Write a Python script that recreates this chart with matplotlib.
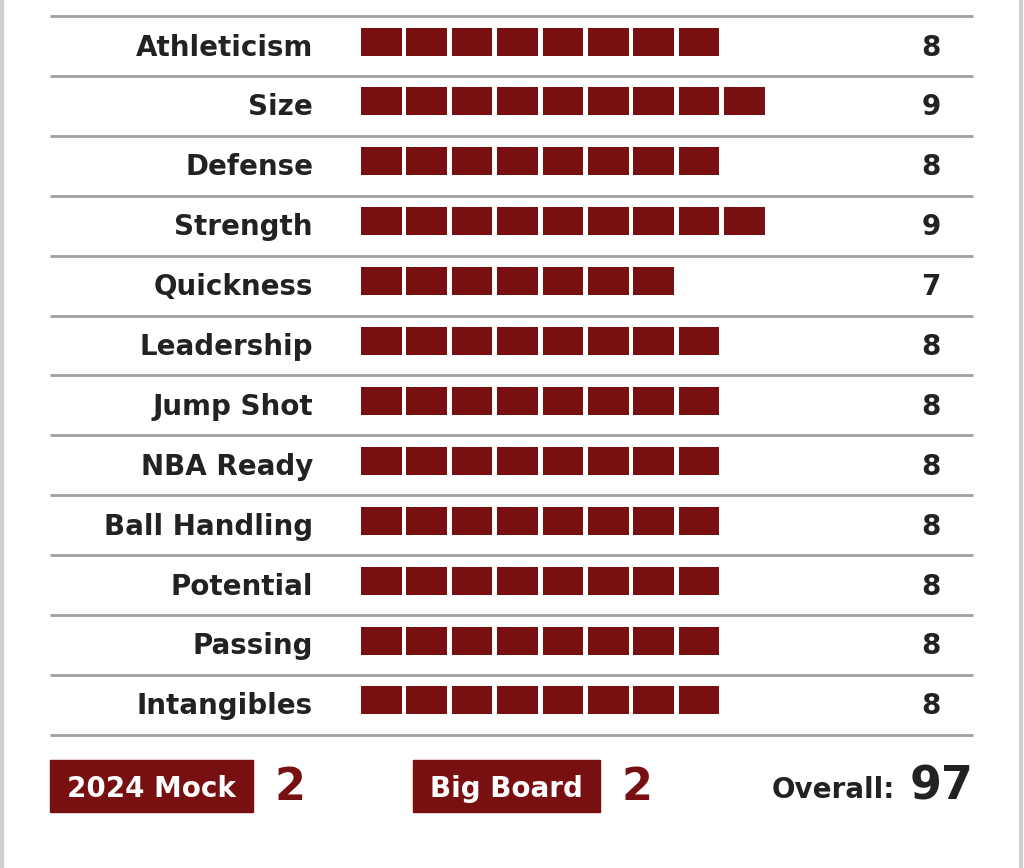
import matplotlib.pyplot as plt
from matplotlib.patches import Rectangle

# ratings
skills = ['Athleticism', 'Size', 'Defense', 'Strength', 'Quickness', 'Leadership',
          'Jump Shot', 'NBA Ready', 'Ball Handling', 'Potential', 'Passing', 'Intangibles']
scores = [8, 9, 8, 9, 7, 8, 8, 8, 8, 8, 8, 8]
mock_rank = 2
board_rank = 2
overall = 97

RED = '#780f11'
DARK = '#222222'
FONT = 'DejaVu Sans'

fig = plt.figure(figsize=(10.24, 8.68), dpi=100)
ax = fig.add_axes([0, 0, 1, 1])
ax.set_xlim(0, 1024)
ax.set_ylim(868, 0)
ax.axis('off')

# light frame edges
ax.axvline(1.5, color='#d0d0d0', lw=3)
ax.axvline(1020.5, color='#d0d0d0', lw=3)

row_h = 59.9
top = 16
for i, (name, s) in enumerate(zip(skills, scores)):
    y0 = top + row_h * i
    ax.plot([50, 973], [y0, y0], color='#a0a0a0', lw=2, solid_capstyle='butt')
    # labels and squares sit on a common baseline
    base = y0 + 39.5
    ax.text(313, base, name, ha='right', va='baseline', fontsize=20, fontweight='bold',
            color=DARK, family=FONT)
    lefts = [361 + 45.4 * k for k in range(s)]
    ax.barh([base - 14] * s, [40.5] * s, left=lefts, height=28, color=RED)
    ax.text(931, base, str(s), ha='center', va='baseline', fontsize=20, fontweight='bold',
            color=DARK, family=FONT)
ax.plot([50, 973], [top + row_h * len(skills)] * 2, color='#a0a0a0', lw=2, solid_capstyle='butt')

# footer
ax.add_patch(Rectangle((50, 760), 203, 52, color=RED))
ax.text(151.5, 797, '2024 Mock', ha='center', va='baseline', fontsize=20, fontweight='bold',
        color='white', family=FONT)
ax.text(290, 800, str(mock_rank), ha='center', va='baseline', fontsize=32, fontweight='bold',
        color=RED, family=FONT)
ax.add_patch(Rectangle((413, 760), 187, 52, color=RED))
ax.text(506.5, 797, 'Big Board', ha='center', va='baseline', fontsize=20, fontweight='bold',
        color='white', family=FONT)
ax.text(637, 800, str(board_rank), ha='center', va='baseline', fontsize=32, fontweight='bold',
        color=RED, family=FONT)
ax.text(895, 798, 'Overall:', ha='right', va='baseline', fontsize=20, fontweight='bold',
        color=DARK, family=FONT)
ax.text(973, 800, str(overall), ha='right', va='baseline', fontsize=33, fontweight='bold',
        color=DARK, family=FONT)

fig.savefig('out.png', dpi=100)
